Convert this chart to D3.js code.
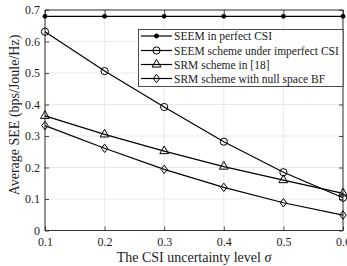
<!DOCTYPE html>
<html><head><meta charset="utf-8">
<script src="https://cdn.jsdelivr.net/npm/d3@7"></script>
<style>body{margin:0;background:#fff}svg{display:block}</style>
</head><body>
<svg id="c" width="347" height="266"></svg>
<script>
const sigma = [0.1, 0.2, 0.3, 0.4, 0.5, 0.6];
const seemPerfect = [0.68, 0.68, 0.68, 0.68, 0.68, 0.68];
const seemImperfect = [0.631, 0.506, 0.392, 0.282, 0.185, 0.104];
const srm18 = [0.364, 0.305, 0.252, 0.203, 0.160, 0.118];
const srmNull = [0.333, 0.261, 0.194, 0.137, 0.088, 0.049];
const xTicks = [0.1, 0.2, 0.3, 0.4, 0.5, 0.6];
const yTicks = [0, 0.1, 0.2, 0.3, 0.4, 0.5, 0.6, 0.7];
const seriesNames = ["SEEM in perfect CSI", "SEEM scheme under imperfect CSI", "SRM scheme in [18]", "SRM scheme with null space BF"];
const seriesMarkers = ["dot", "circle", "triangle", "diamond"];
const seriesValues = [seemPerfect, seemImperfect, srm18, srmNull];

const svg = d3.select("#c");
const L = 45, R = 343, T = 10, B = 230.5;
const x = d3.scaleLinear().domain([0.1, 0.6]).range([L, R]);
const y = d3.scaleLinear().domain([0, 0.7]).range([B, T]);
const font = "'Liberation Serif','Times New Roman',serif";

// grid
const g = svg.append("g");
g.selectAll(".gx").data(xTicks).enter().append("line")
  .attr("x1", d => x(d)).attr("x2", d => x(d)).attr("y1", T).attr("y2", B)
  .attr("stroke", "#e3e3e3").attr("stroke-width", 0.8);
g.selectAll(".gy").data(yTicks).enter().append("line")
  .attr("x1", L).attr("x2", R).attr("y1", d => y(d)).attr("y2", d => y(d))
  .attr("stroke", "#e3e3e3").attr("stroke-width", 0.8);

// axes
const xAxis = d3.axisBottom(x).tickValues(xTicks).tickSize(-4).tickPadding(7).tickFormat(d3.format(".1f"));
const yAxis = d3.axisLeft(y).tickValues(yTicks).tickSize(-4).tickPadding(5).tickFormat(d => d === 0 ? "0" : d3.format(".1f")(d));
const ax = svg.append("g").attr("transform", `translate(0,${B})`).call(xAxis);
const ay = svg.append("g").attr("transform", `translate(${L},0)`).call(yAxis);
const axTop = svg.append("g").attr("transform", `translate(0,${T})`).call(d3.axisTop(x).tickValues(xTicks).tickSize(-4).tickFormat(""));
const ayR = svg.append("g").attr("transform", `translate(${R},0)`).call(d3.axisRight(y).tickValues(yTicks).tickSize(-4).tickFormat(""));
[ax, ay, axTop, ayR].forEach(a => {
  a.select(".domain").remove();
  a.selectAll("line").attr("stroke", "#222").attr("stroke-width", 0.8);
  a.selectAll("text").attr("fill", "#222").style("font-family", font).style("font-size", "12px");
});
svg.append("rect").attr("x", L).attr("y", T).attr("width", R - L).attr("height", B - T)
  .attr("fill", "none").attr("stroke", "#222").attr("stroke-width", 0.9);

// labels
svg.append("text").attr("x", 194).attr("y", 262).attr("text-anchor", "middle")
  .style("font-family", font).style("font-size", "14px").attr("fill", "#222")
  .html("The CSI uncertainty level <tspan font-style='italic'>σ</tspan>");
svg.append("text").attr("transform", `translate(19,115) rotate(-90)`).attr("text-anchor", "middle")
  .style("font-family", font).style("font-size", "14px").attr("fill", "#222")
  .text("Average SEE (bps/Joule/Hz)");

function marker(sel, type, cx, cy) {
  if (type === "dot") sel.append("circle").attr("cx", cx).attr("cy", cy).attr("r", 2.4).attr("fill", "#000");
  else if (type === "circle") sel.append("circle").attr("cx", cx).attr("cy", cy).attr("r", 3.6).attr("fill", "none").attr("stroke", "#000").attr("stroke-width", 1);
  else if (type === "triangle") sel.append("path").attr("d", d3.symbol(d3.symbolTriangle, 34)()).attr("transform", `translate(${cx},${cy})`).attr("fill", "none").attr("stroke", "#000").attr("stroke-width", 1);
  else sel.append("path").attr("d", `M0,-4.2L3.2,0L0,4.2L-3.2,0Z`).attr("transform", `translate(${cx},${cy})`).attr("fill", "none").attr("stroke", "#000").attr("stroke-width", 1);
}

const line = d3.line().x((d, i) => x(sigma[i])).y(d => y(d));
seriesValues.forEach((vals, k) => {
  const s = svg.append("g");
  s.append("path").datum(vals).attr("d", line).attr("fill", "none").attr("stroke", "#000").attr("stroke-width", 1.2);
  vals.forEach((v, i) => marker(s, seriesMarkers[k], x(sigma[i]), y(v)));
});

// legend
const lg = svg.append("g");
lg.append("rect").attr("x", 138.5).attr("y", 29.5).attr("width", R - 138.5).attr("height", 57)
  .attr("fill", "#fff").attr("stroke", "#222").attr("stroke-width", 0.8);
const rows = [36, 50.5, 64.5, 78.5];
seriesNames.forEach((n, k) => {
  lg.append("line").attr("x1", 141).attr("x2", 172).attr("y1", rows[k]).attr("y2", rows[k]).attr("stroke", "#000").attr("stroke-width", 1.2);
  marker(lg, seriesMarkers[k], 156.5, rows[k]);
  lg.append("text").attr("x", 174).attr("y", rows[k] + 4).text(n)
    .style("font-family", font).style("font-size", "11.5px").attr("fill", "#222");
});
</script>
</body></html>
